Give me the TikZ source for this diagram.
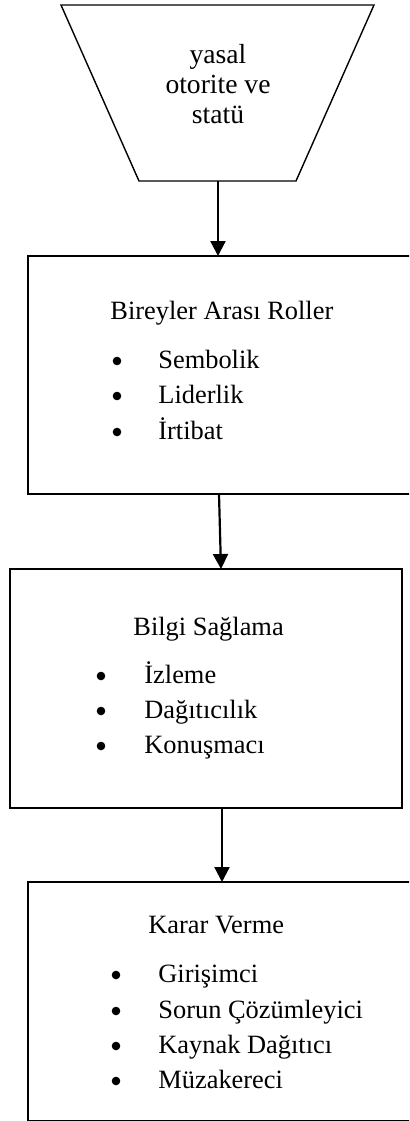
\documentclass[tikz,border=0pt]{standalone}
\usepackage{fontspec}
\setmainfont{Liberation Serif}
\usetikzlibrary{arrows.meta}
\begin{document}
\begin{tikzpicture}[x=0.5pt,y=-0.5pt,
  boxshape/.style={draw,line width=0.7pt,inner sep=0pt,outer sep=0pt,rectangle},
  txt/.style={font=\fontsize{13.2}{15}\selectfont,inner sep=0pt,anchor=base west},
  ctxt/.style={font=\fontsize{13.8}{15}\selectfont,inner sep=0pt,anchor=base},
  bul/.style={circle,fill=black,inner sep=0pt,minimum size=4.3pt},
  conn/.style={line width=1.1pt,-{Triangle[width=7.5pt,length=7.5pt]}}]
\useasboundingbox (0,0) rectangle (409,1121);
\clip (0,0) rectangle (409,1121);
% trapezoid
\draw[line width=0.7pt] (61,5) -- (374,5) -- (296,181) -- (139,181) -- cycle;
\coordinate (trapB) at (218,181);
\node[ctxt] (y1) at (218,63) {yasal};
\node[ctxt] (y2) at (218,93) {otorite ve};
\node[ctxt] (y3) at (218,123) {statü};
% boxes
\node[boxshape,minimum width=206pt,minimum height=119pt] (box1) at (234,375) {};
\node[boxshape,minimum width=196pt,minimum height=119.5pt] (box2) at (206,688.5) {};
\node[boxshape,minimum width=206pt,minimum height=119.5pt] (box3) at (234,1001.5) {};
% box 1 text
\node[txt] (b1t) at (110,319) {Bireyler Arası Roller};
\node[bul] (b1b1) at (117,361) {};
\node[txt] (b1i1) at (158,368) {Sembolik};
\node[bul] (b1b2) at (117,396) {};
\node[txt] (b1i2) at (158,403) {Liderlik};
\node[bul] (b1b3) at (117,432) {};
\node[txt] (b1i3) at (158,439) {İrtibat};
% box 2 text
\node[txt] (b2t) at (133,635) {Bilgi Sağlama};
\node[bul] (b2b1) at (101,676) {};
\node[txt] (b2i1) at (144,683) {İzleme};
\node[bul] (b2b2) at (101,711) {};
\node[txt] (b2i2) at (144,718) {Dağıtıcılık};
\node[bul] (b2b3) at (101,746) {};
\node[txt] (b2i3) at (144,753) {Konuşmacı};
% box 3 text
\node[txt] (b3t) at (148,933) {Karar Verme};
\node[bul] (b3b1) at (116,975) {};
\node[txt] (b3i1) at (158,982) {Girişimci};
\node[bul] (b3b2) at (116,1011) {};
\node[txt] (b3i2) at (158,1018) {Sorun Çözümleyici};
\node[bul] (b3b3) at (116,1046) {};
\node[txt] (b3i3) at (158,1053) {Kaynak Dağıtıcı};
\node[bul] (b3b4) at (116,1081) {};
\node[txt] (b3i4) at (158,1088) {Müzakereci};
% connectors
\coordinate (a2s) at (219,494);
\coordinate (a2e) at (221,569);
\coordinate (a3s) at (222,808);
\coordinate (a3e) at (222,882);
\draw[conn] (trapB) -- (trapB |- box1.north);
\draw[conn] (a2s |- box1.south) -- (a2e |- box2.north);
\draw[conn] (a3s |- box2.south) -- (a3e |- box3.north);
\end{tikzpicture}
\end{document}
